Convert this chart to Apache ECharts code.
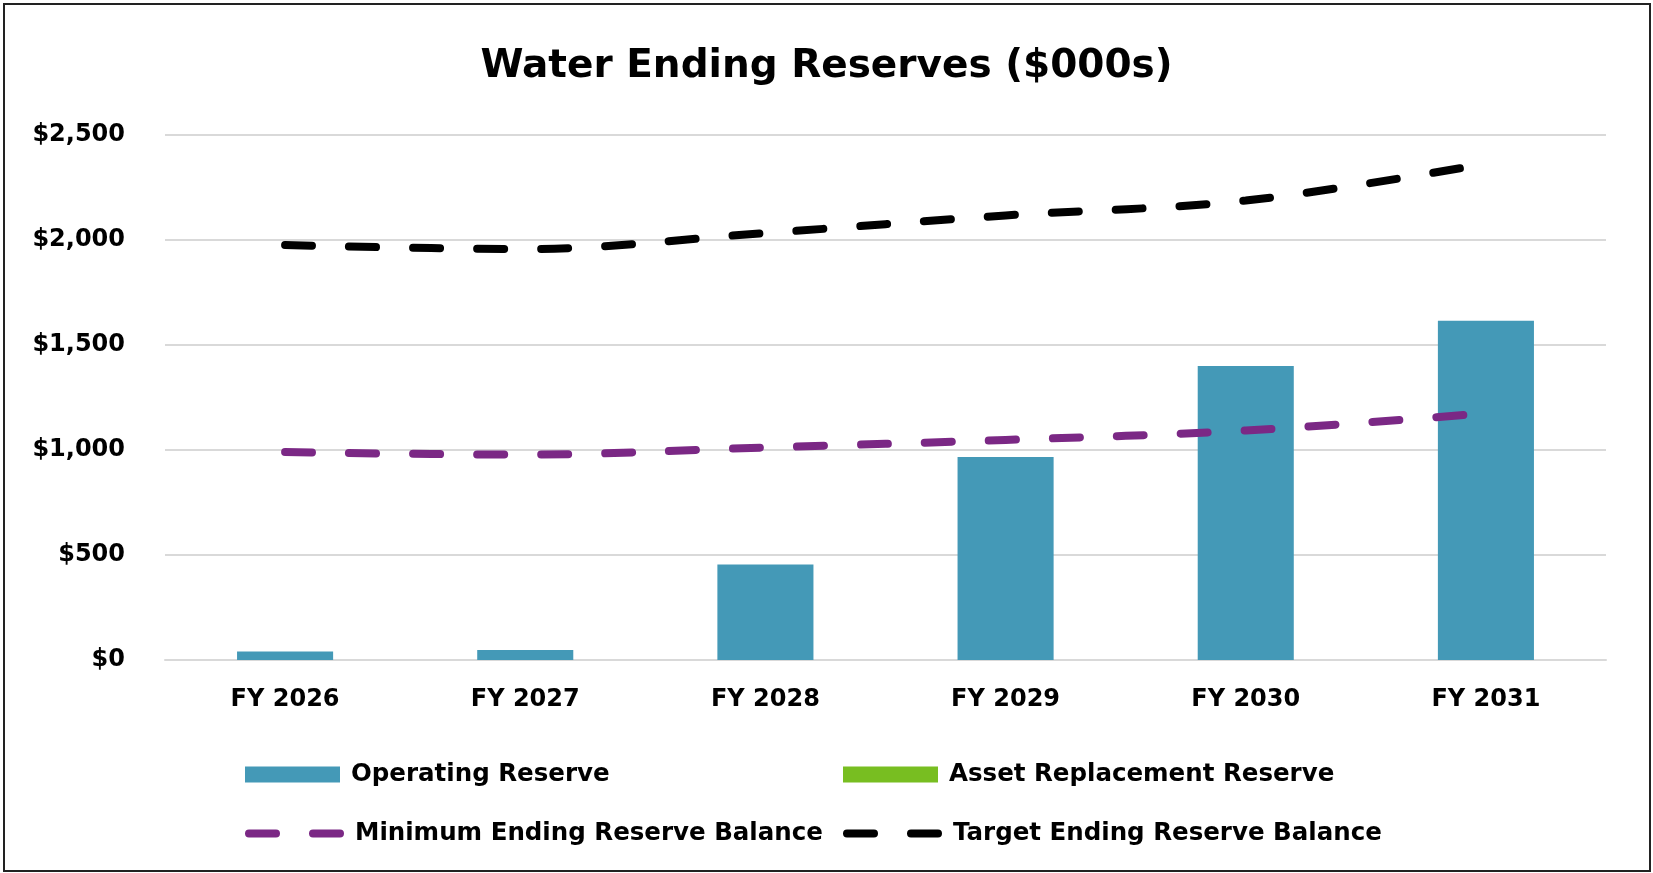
<!DOCTYPE html>
<html>
<head>
<meta charset="utf-8">
<script src="https://cdn.jsdelivr.net/npm/echarts@6/dist/echarts.min.js"></script>
<style>
html,body{margin:0;padding:0;background:#fff;}
#chart{width:1653px;height:873px;}
</style>
</head>
<body>
<div id="chart"></div>
<script>
const categories = ['FY 2026', 'FY 2027', 'FY 2028', 'FY 2029', 'FY 2030', 'FY 2031'];
const operatingReserve = [40, 48, 455, 967, 1400, 1615];
const assetReplacementReserve = [0, 0, 0, 0, 0, 0];
const minimumEndingBalance = [990, 978, 1012, 1048, 1093, 1175];
const targetEndingBalance = [1976, 1957, 2033, 2117, 2188, 2363];
const yTicks = [0, 500, 1000, 1500, 2000, 2500];

const FONT = 'DejaVu Sans';
const chart = echarts.init(document.getElementById('chart'), null, {renderer: 'canvas'});

const legendBase = {
  itemWidth: 95,
  itemHeight: 16,
  padding: 0,
  selectedMode: false,
  textStyle: {fontFamily: FONT, fontWeight: 'bold', fontSize: 24.5, color: '#000', lineHeight: 16, padding: [0, 0, 0, 6]},
  lineStyle: {width: 'inherit'}
};
const lineLegend = {itemStyle: {opacity: 0}};
const barLegend = {icon: 'rect'};

chart.setOption({
  animation: false,
  backgroundColor: '#fff',
  title: {
    text: 'Water Ending Reserves ($000s)',
    left: 'center',
    top: 47,
    padding: 0,
    textStyle: {fontFamily: FONT, fontWeight: 'bold', fontSize: 39, color: '#000'}
  },
  graphic: [{
    type: 'rect',
    shape: {x: 4, y: 4, width: 1646, height: 867},
    style: {fill: 'none', stroke: '#222', lineWidth: 2},
    silent: true
  }],
  legend: [
    Object.assign({}, legendBase, barLegend, {data: ['Operating Reserve'], left: 245, top: 762}),
    Object.assign({}, legendBase, barLegend, {data: ['Asset Replacement Reserve'], left: 843, top: 762}),
    Object.assign({}, legendBase, lineLegend, {data: ['Minimum Ending Reserve Balance'], left: 245, top: 821}),
    Object.assign({}, legendBase, lineLegend, {data: ['Target Ending Reserve Balance'], left: 843, top: 821})
  ],
  grid: {left: 165, right: 47, top: 135, bottom: 213, containLabel: false},
  xAxis: {
    type: 'category',
    data: categories,
    axisLine: {show: true, lineStyle: {color: '#D9D9D9', width: 2}},
    axisTick: {show: false},
    axisLabel: {fontFamily: FONT, fontWeight: 'bold', fontSize: 24, color: '#000', margin: 28}
  },
  yAxis: {
    type: 'value',
    min: yTicks[0],
    max: yTicks[yTicks.length - 1],
    interval: 500,
    axisLine: {show: false},
    axisTick: {show: false},
    splitLine: {lineStyle: {color: '#D9D9D9', width: 2}},
    axisLabel: {
      fontFamily: FONT, fontWeight: 'bold', fontSize: 24, color: '#000', margin: 40,
      formatter: v => '$' + v.toLocaleString('en-US')
    }
  },
  series: [
    {
      name: 'Operating Reserve', type: 'bar', stack: 'res', data: operatingReserve,
      barWidth: '40%', itemStyle: {color: '#4499B7'}
    },
    {
      name: 'Asset Replacement Reserve', type: 'bar', stack: 'res', data: assetReplacementReserve,
      barWidth: '40%', itemStyle: {color: '#78BE21'}
    },
    {
      name: 'Minimum Ending Reserve Balance', type: 'line', data: minimumEndingBalance,
      smooth: 0.35, symbol: 'none', itemStyle: {color: '#7B2885'},
      lineStyle: {color: '#7B2885', width: 8, type: [27, 37], cap: 'round'}
    },
    {
      name: 'Target Ending Reserve Balance', type: 'line', data: targetEndingBalance,
      smooth: 0.35, symbol: 'none', itemStyle: {color: '#000'},
      lineStyle: {color: '#000', width: 8, type: [27, 37], cap: 'round'}
    }
  ]
});
</script>
</body>
</html>
